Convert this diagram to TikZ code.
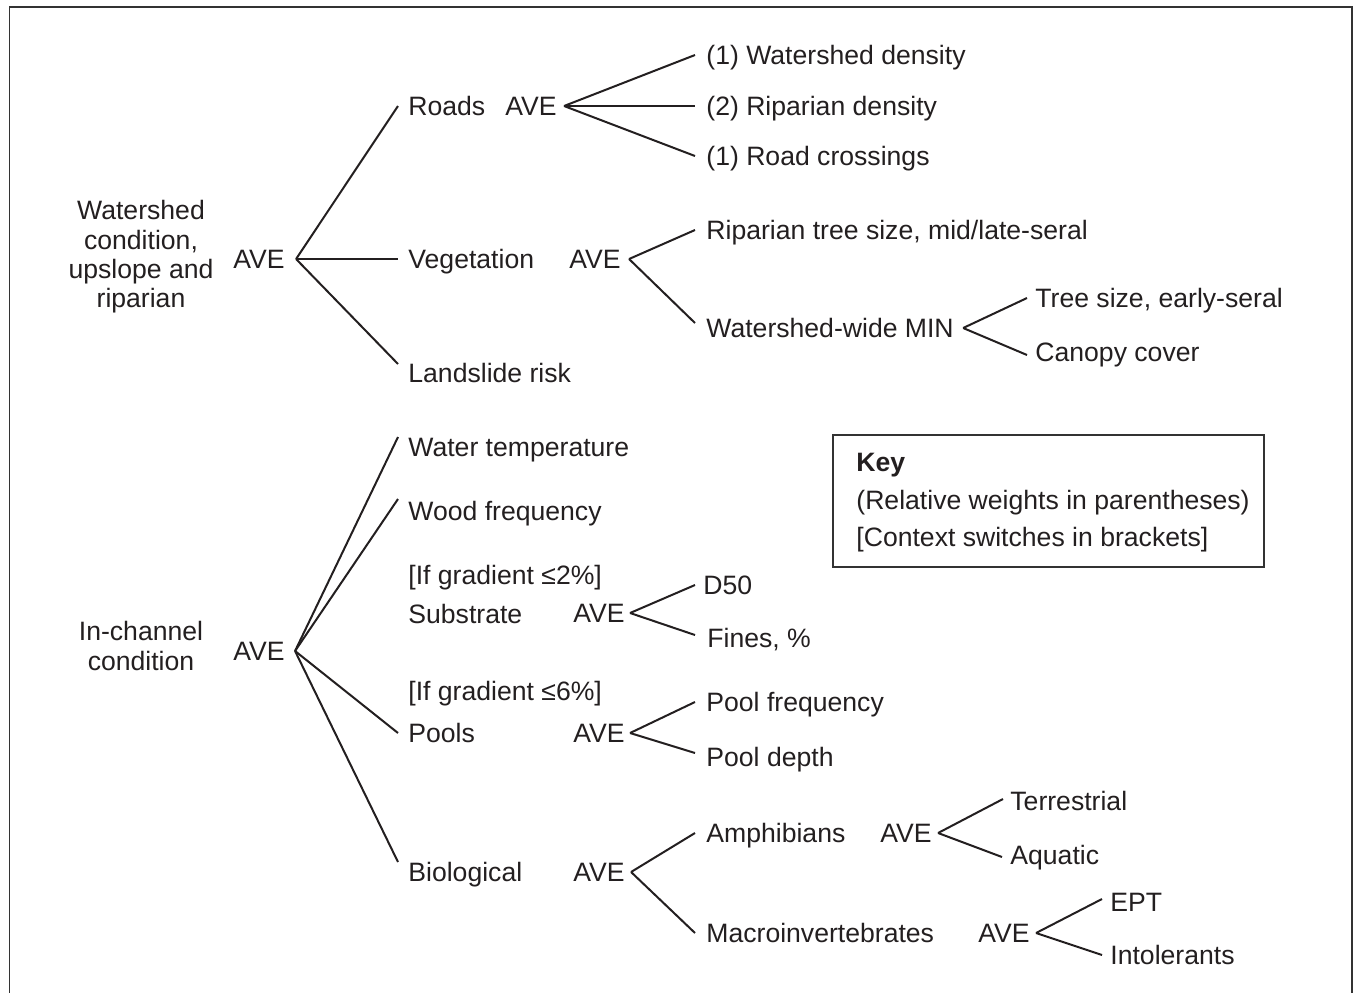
\documentclass[tikz,border=0pt]{standalone}
\usepackage{fontspec}
\setmainfont{Liberation Sans}
\usepackage{xcolor}
\usepackage{tikz}
\usetikzlibrary{positioning}

\definecolor{ink}{HTML}{231F20}

\begin{document}
\begin{tikzpicture}[x=0.5pt,y=-0.5pt,font=\fontsize{13.3}{14.65}\selectfont,
    every node/.style={text=ink}]
        \tikzstyle{item}=[anchor=west,inner sep=0pt,text height=9.5pt,text depth=0pt]
        \tikzstyle{head}=[align=center,inner sep=0pt]
        \tikzstyle{branch}=[draw=ink,line width=1pt]
        \useasboundingbox (0,0) rectangle (1356,992);
        \draw[black!80,line width=0.9pt] (9.5,1000) -- (9.5,7) -- (1352,7) -- (1352,1000);

        % upper tree
        \node[head] (ws) at (141,257) {Watershed\\condition,\\upslope and\\riparian};
        \node[item] (aveWs) at (233,259) {AVE};
        \node[item] (roads) at (408,106) {Roads};
        \node[item] (aveRoads) at (505,106) {AVE};
        \node[item] (wsDens) at (706,55) {(1) Watershed density};
        \node[item] (ripDens) at (706,106) {(2) Riparian density};
        \node[item] (cross) at (706,156) {(1) Road crossings};
        \node[item] (veg) at (408,259) {Vegetation};
        \node[item] (aveVeg) at (569,259) {AVE};
        \node[item] (ripTree) at (706,230) {Riparian tree size, mid/late-seral};
        \node[item] (wsMin) at (706,328) {Watershed-wide MIN};
        \node[item] (treeSize) at (1035,298) {Tree size, early-seral};
        \node[item] (canopy) at (1035,352) {Canopy cover};
        \node[item] (slide) at (408,373) {Landslide risk};

        \path[branch] ([xshift=5.5pt]aveWs.east) edge ([xshift=-5pt]roads.west)
            edge ([xshift=-5pt]veg.west) edge ([xshift=-5pt,yshift=4.5pt]slide.west);
        \path[branch] ([xshift=3.5pt]aveRoads.east) edge ([xshift=-5.5pt]wsDens.west)
            edge ([xshift=-5.5pt]ripDens.west) edge ([xshift=-5.5pt]cross.west);
        \path[branch] ([xshift=4pt]aveVeg.east) edge ([xshift=-5.5pt]ripTree.west)
            edge ([xshift=-5.5pt,yshift=2.5pt]wsMin.west);
        \path[branch] ([xshift=4.5pt]wsMin.east) edge ([xshift=-4pt]treeSize.west)
            edge ([xshift=-4pt,yshift=-1.5pt]canopy.west);

        % lower tree
        \node[head] (chan) at (141,646) {In-channel\\condition};
        \node[item] (aveChan) at (233,651) {AVE};
        \node[item] (temp) at (408,447) {Water temperature};
        \node[item] (wood) at (408,511) {Wood frequency};
        \node[item] (ifTwo) at (408,575) {[If gradient ≤2\%]};
        \node[item] (subst) at (408,614) {Substrate};
        \node[item] (aveSubst) at (573,613) {AVE};
        \node[item] (dfifty) at (703,585) {D50};
        \node[item] (fines) at (707,638) {Fines, \%};
        \node[item] (ifSix) at (408,691) {[If gradient ≤6\%]};
        \node[item] (pools) at (408,733) {Pools};
        \node[item] (avePools) at (573,733) {AVE};
        \node[item] (poolFreq) at (706,702) {Pool frequency};
        \node[item] (poolDepth) at (706,757) {Pool depth};
        \node[item] (bio) at (408,872) {Biological};
        \node[item] (aveBio) at (573,872) {AVE};
        \node[item] (amph) at (706,833) {Amphibians};
        \node[item] (aveAmph) at (880,833) {AVE};
        \node[item] (terr) at (1010,801) {Terrestrial};
        \node[item] (aqua) at (1010,855) {Aquatic};
        \node[item] (macro) at (706,933) {Macroinvertebrates};
        \node[item] (aveMacro) at (978,933) {AVE};
        \node[item] (ept) at (1110,902) {EPT};
        \node[item] (intol) at (1110,955) {Intolerants};

        \path[branch] ([xshift=5pt]aveChan.east) edge ([xshift=-5pt,yshift=5pt]temp.west)
            edge ([xshift=-5pt,yshift=6pt]wood.west) edge ([xshift=-5pt]pools.west)
            edge ([xshift=-5pt,yshift=5pt]bio.west);
        \path[branch] ([xshift=2.5pt]aveSubst.east) edge ([xshift=-4pt]dfifty.west)
            edge ([xshift=-6pt,yshift=1.5pt]fines.west);
        \path[branch] ([xshift=2.5pt]avePools.east) edge ([xshift=-5.5pt]poolFreq.west)
            edge ([xshift=-5.5pt,yshift=2pt]poolDepth.west);
        \path[branch] ([xshift=3pt]aveBio.east) edge ([xshift=-5.5pt]amph.west)
            edge ([xshift=-5.5pt]macro.west);
        \path[branch] ([xshift=3pt]aveAmph.east) edge ([xshift=-3.5pt,yshift=1pt]terr.west)
            edge ([xshift=-4pt,yshift=-1pt]aqua.west);
        \path[branch] ([xshift=3pt]aveMacro.east) edge ([xshift=-4pt,yshift=1.5pt]ept.west)
            edge ([xshift=-4pt]intol.west);

        % key
        \draw[black!80,line width=0.7pt] (833,435) rectangle (1264,567);
        \node[item,font=\fontsize{13.3}{14.65}\selectfont\bfseries] (keyHead) at (856,462) {Key};
        \node[item] (keyWeights) at (856,500) {(Relative weights in parentheses)};
        \node[item] (keySwitch) at (856,537) {[Context switches in brackets]};
    \end{tikzpicture}
\end{document}
